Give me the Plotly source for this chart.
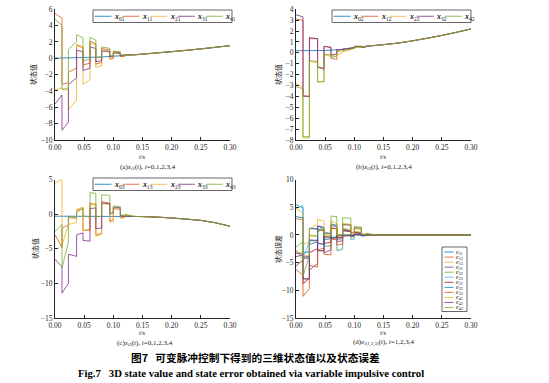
import numpy as np
import plotly.graph_objects as go

W, H = 549, 383

# ---------------- data ----------------
# impulse instants (s)
T = [0.0, 0.012, 0.023, 0.037, 0.048, 0.060, 0.070, 0.080, 0.094, 0.100, 0.112, 0.120, 0.135]
# leader sampling instants
lead_t = [0.0, 0.025, 0.05, 0.075, 0.1, 0.125, 0.15, 0.175, 0.2, 0.225, 0.25, 0.275, 0.3]

x01 = [0.02, 0.03, 0.06, 0.14, 0.25, 0.37, 0.50, 0.64, 0.80, 0.97, 1.15, 1.34, 1.55]
x02 = [0.20, 0.20, 0.22, 0.30, 0.50, 0.62, 0.75, 0.90, 1.10, 1.33, 1.60, 1.88, 2.20]
x03 = [-0.30, -0.30, -0.30, -0.30, -0.30, -0.32, -0.35, -0.42, -0.55, -0.70, -0.90, -1.25, -1.75]

# followers: value right after each impulse (_s) and right before the next one (_e)
x11_s = [5.5, -3.2, -1.7, 1.6, -0.8, 2.1, -0.7, 1.2, -0.1, 0.8, 0.2, 0.45]
x11_e = [4.9, -3.0, -1.2, 1.3, -0.6, 1.8, -0.5, 1.0, 0.0, 0.7, 0.25, 0.42]
x21_s = [-3.9, -3.8, -6.3, 1.7, -3.2, 1.9, -1.1, 1.0, -0.1, 0.6, 0.3, 0.40]
x21_e = [-3.6, -3.9, -5.1, 1.4, -2.6, 1.6, -0.9, 0.9, 0.2, 0.55, 0.35, 0.42]
x31_s = [-5.6, -8.8, -3.2, 1.0, -1.5, 1.4, -0.4, 0.9, 0.2, 0.7, 0.3, 0.42]
x31_e = [-4.5, -7.8, -2.4, 0.8, -1.2, 1.2, -0.3, 0.8, 0.3, 0.6, 0.35, 0.42]
x41_s = [4.8, -3.8, 1.1, 2.9, -0.3, 2.6, 0.1, 1.4, 0.3, 0.9, 0.4, 0.45]
x41_e = [4.0, -3.7, 2.0, 2.5, -0.1, 2.2, 0.2, 1.2, 0.4, 0.8, 0.45, 0.42]

x12_s = [3.1, -3.9, 1.3, -1.3, 0.6, -0.5, 0.25, 0.35, 0.4, 0.6, 0.5, 0.62]
x12_e = [3.0, -4.0, 1.3, -1.4, 0.5, -0.6, 0.3, 0.4, 0.45, 0.6, 0.55, 0.67]
x22_s = [-2.8, -7.8, -0.8, -2.6, -0.2, -0.3, -0.2, 0.1, 0.35, 0.5, 0.5, 0.62]
x22_e = [-3.2, -7.8, -0.9, -2.7, -0.3, -0.1, 0.0, 0.3, 0.4, 0.5, 0.55, 0.67]
x32_s = [3.5, -4.0, 1.4, -1.3, 0.6, -0.2, 0.3, 0.35, 0.45, 0.6, 0.5, 0.62]
x32_e = [3.3, -4.0, 1.3, -1.5, 0.5, -0.1, 0.3, 0.4, 0.45, 0.6, 0.55, 0.67]
x42_s = [-3.1, -7.7, -0.7, -2.7, -0.1, -0.4, 0.1, 0.2, 0.35, 0.55, 0.5, 0.62]
x42_e = [-3.3, -7.7, -0.8, -2.6, -0.2, -0.3, 0.2, 0.3, 0.4, 0.55, 0.55, 0.67]

x13_s = [-3.0, -2.0, -0.5, 0.5, -2.4, 1.6, -3.0, 1.8, -1.0, 0.8, -0.5, -0.2]
x13_e = [-4.8, -1.6, -0.6, 0.8, -2.2, 1.3, -2.8, 1.6, -0.8, 0.7, -0.4, -0.33]
x23_s = [4.5, -4.5, -1.5, 0.7, -2.3, 1.2, -3.2, 1.5, -1.2, 0.9, -0.6, -0.2]
x23_e = [5.0, -1.8, -1.2, 1.0, -2.4, 1.6, -2.9, 1.4, -1.1, 0.9, -0.5, -0.33]
x33_s = [-6.5, -11.4, -5.8, -3.0, -3.8, 0.8, -2.1, 1.6, 0.1, 1.0, -0.2, -0.3]
x33_e = [-7.6, -10.0, -6.1, -2.7, -3.9, 0.9, -2.0, 1.5, 0.2, 0.9, -0.3, -0.33]
x43_s = [-2.5, -7.8, -0.3, 0.2, -0.3, 3.1, -0.4, 2.8, 0.0, 1.2, -0.1, 0.0]
x43_e = [-1.5, -4.0, -0.5, 0.9, -0.4, 3.0, -0.3, 2.7, 0.2, 1.1, -0.2, -0.33]

x_ticks = [0.0, 0.05, 0.10, 0.15, 0.20, 0.25, 0.30]
x_ticktext = ["0.00", "0.05", "0.10", "0.15", "0.20", "0.25", "0.30"]

leg_a = ["01", "11", "21", "31", "41"]
leg_b = ["02", "12", "22", "32", "42"]
leg_c = ["03", "13", "23", "33", "43"]
leg_d = ["11", "12", "13", "21", "22", "23", "31", "32", "33", "41", "42", "43"]

C = ['#0072BD', '#D95319', '#EDB120', '#7E2F8E', '#77AC30', '#4DBEEE', '#A2142F']

# ---------------- helpers ----------------
def follower(s, e, lt, lv):
    xs, ys = [], []
    for k in range(len(s)):
        xs += [T[k], T[k + 1]]
        ys += [s[k], e[k]]
    for t, v in zip(lt, lv):
        if t > T[-1]:
            xs.append(t)
            ys.append(v)
    return np.array(xs), np.array(ys)

PX = lambda p: p / W
PY = lambda p: 1 - p / H

fig = go.Figure()
LW = 0.8

panels = [
    ("x", "y", x01, [(x11_s, x11_e), (x21_s, x21_e), (x31_s, x31_e), (x41_s, x41_e)]),
    ("x2", "y2", x02, [(x12_s, x12_e), (x22_s, x22_e), (x32_s, x32_e), (x42_s, x42_e)]),
    ("x3", "y3", x03, [(x13_s, x13_e), (x23_s, x23_e), (x33_s, x33_e), (x43_s, x43_e)]),
]
curves = {}
for pi, (xa, ya, lead, fols) in enumerate(panels):
    fig.add_trace(go.Scatter(x=lead_t, y=lead, mode="lines", line=dict(color=C[0], width=LW),
                             xaxis=xa, yaxis=ya, showlegend=False))
    for fi, (s, e) in enumerate(fols):
        xs, ys = follower(s, e, lead_t, lead)
        curves[(fi, pi)] = (xs, ys - np.interp(xs, lead_t, lead))
        fig.add_trace(go.Scatter(x=xs, y=ys, mode="lines", line=dict(color=C[fi + 1], width=LW),
                                 xaxis=xa, yaxis=ya, showlegend=False))

# errors e_ij = x_ij - x_0j
k = 0
for fi in range(4):
    for pi in range(3):
        xs, es = curves[(fi, pi)]
        fig.add_trace(go.Scatter(x=xs, y=es, mode="lines", line=dict(color=C[k % 7], width=LW),
                                 xaxis="x4", yaxis="y4", showlegend=False))
        k += 1

# ---------------- axes ----------------
AXC = '#262626'
base = dict(showline=True, linecolor=AXC, linewidth=0.8, ticks='inside', ticklen=3,
            tickwidth=0.6, tickcolor=AXC, showgrid=False, zeroline=False, automargin=False,
            tickfont=dict(family='Liberation Serif', size=7.5, color=AXC))
xl, xr = [55, 230], [296, 471]
yt, yb = [9.3, 140], [179.5, 318]
xdef = dict(base, range=[0, 0.3], tickvals=x_ticks, ticktext=x_ticktext)
fig.update_layout(
    xaxis=dict(xdef, domain=[PX(xl[0]), PX(xl[1])], anchor='y'),
    yaxis=dict(base, domain=[PY(yt[1]), PY(yt[0])], range=[-10, 6], dtick=2, anchor='x'),
    xaxis2=dict(xdef, domain=[PX(xr[0]), PX(xr[1])], anchor='y2'),
    yaxis2=dict(base, domain=[PY(yt[1]), PY(yt[0])], range=[-8, 4], dtick=1, anchor='x2'),
    xaxis3=dict(xdef, domain=[PX(xl[0]), PX(xl[1])], anchor='y3'),
    yaxis3=dict(base, domain=[PY(yb[1]), PY(yb[0])], range=[-15, 5], dtick=5, anchor='x3'),
    xaxis4=dict(xdef, domain=[PX(xr[0]), PX(xr[1])], anchor='y4'),
    yaxis4=dict(base, domain=[PY(yb[1]), PY(yb[0])], range=[-15, 10], dtick=5, anchor='x4'),
)

# ---------------- texts ----------------
ann = []
shapes = []
SERIF = 'Liberation Serif'
CJK = 'Noto Sans CJK SC'

def text(x, y, t, size=7, fam=SERIF, angle=0, xanchor='center', color='#1a1a1a'):
    ann.append(dict(x=PX(x), y=PY(y), xref='paper', yref='paper', text=t, showarrow=False,
                    textangle=angle, xanchor=xanchor, yanchor='middle',
                    font=dict(family=fam, size=size, color=color)))

for cx, ty, lab in [(33, 75, '状态值'), (278, 75, '状态值'), (35, 249, '状态值'), (278, 249, '状态误差')]:
    text(cx, ty, lab, size=7, fam=CJK, angle=-90)
for cx, ty in [(142.5, 156), (383.5, 156), (142.5, 332.5), (383.5, 332.5)]:
    text(cx, ty, '<i>t</i>/s', size=6.5)
text(148, 166.5, '(a)<i>x</i><sub><i>i</i>1</sub>(<i>t</i>), <i>i</i>=0,1,2,3,4', size=7)
text(384, 166.5, '(b)<i>x</i><sub><i>i</i>2</sub>(<i>t</i>), <i>i</i>=0,1,2,3,4', size=7)
text(145, 342.5, '(c)<i>x</i><sub><i>i</i>3</sub>(<i>t</i>), <i>i</i>=0,1,2,3,4', size=7)
text(383, 342.5, '(d)<i>e</i><sub><i>i</i>(1,2,3)</sub>(<i>t</i>), <i>i</i>=1,2,3,4', size=7)
text(255, 357.5, '<b>图7\u00a0\u00a0\u00a0可变脉冲控制下得到的三维状态值以及状态误差</b>', size=10.7, fam=CJK, color='#000')
text(251, 372.5, '<b>Fig.7\u00a0\u00a0\u00a03D state value and state error obtained via variable impulsive control</b>',
     size=10.7, color='#000')

# ---------------- legends ----------------
def hlegend(x0, y0, x1, y1, labels):
    shapes.append(dict(type='rect', xref='paper', yref='paper', x0=PX(x0), x1=PX(x1), y0=PY(y1), y1=PY(y0),
                       line=dict(color=AXC, width=0.7), fillcolor='white', layer='above'))
    pitch = (x1 - x0) / len(labels)
    ym = (y0 + y1) / 2
    for i, lab in enumerate(labels):
        lx = x0 + 1.5 + i * pitch
        shapes.append(dict(type='line', xref='paper', yref='paper', x0=PX(lx), x1=PX(lx + 17),
                           y0=PY(ym), y1=PY(ym), line=dict(color=C[i], width=LW), layer='above'))
        text(lx + 17.5, ym + 0.5, '<b><i>x</i></b><sub>%s</sub>' % lab, size=8, xanchor='left')

def vlegend(x0, y0, x1, y1, labels):
    shapes.append(dict(type='rect', xref='paper', yref='paper', x0=PX(x0), x1=PX(x1), y0=PY(y1), y1=PY(y0),
                       line=dict(color=AXC, width=0.7), fillcolor='white', layer='above'))
    pitch = (y1 - y0 - 4) / len(labels)
    for i, lab in enumerate(labels):
        ym = y0 + 2.5 + (i + 0.5) * pitch
        shapes.append(dict(type='line', xref='paper', yref='paper', x0=PX(x0 + 2.5), x1=PX(x0 + 11.5),
                           y0=PY(ym), y1=PY(ym), line=dict(color=C[i % 7], width=LW), layer='above'))
        text(x0 + 12, ym + 0.3, '<i>e</i><sub>%s</sub>' % lab, size=6, xanchor='left')

hlegend(93, 10, 232, 22.5, leg_a)
hlegend(332, 10, 471, 22.5, leg_b)
hlegend(93, 178, 232, 190.5, leg_c)
vlegend(442, 247, 467, 311.5, leg_d)

fig.update_layout(width=W, height=H, margin=dict(l=0, r=0, t=0, b=0),
                  paper_bgcolor='white', plot_bgcolor='white', showlegend=False,
                  annotations=ann, shapes=shapes)

fig.write_html("out.html", config={'displayModeBar': False},
               post_script="document.body.style.margin='0px';document.body.style.overflow='hidden';")
